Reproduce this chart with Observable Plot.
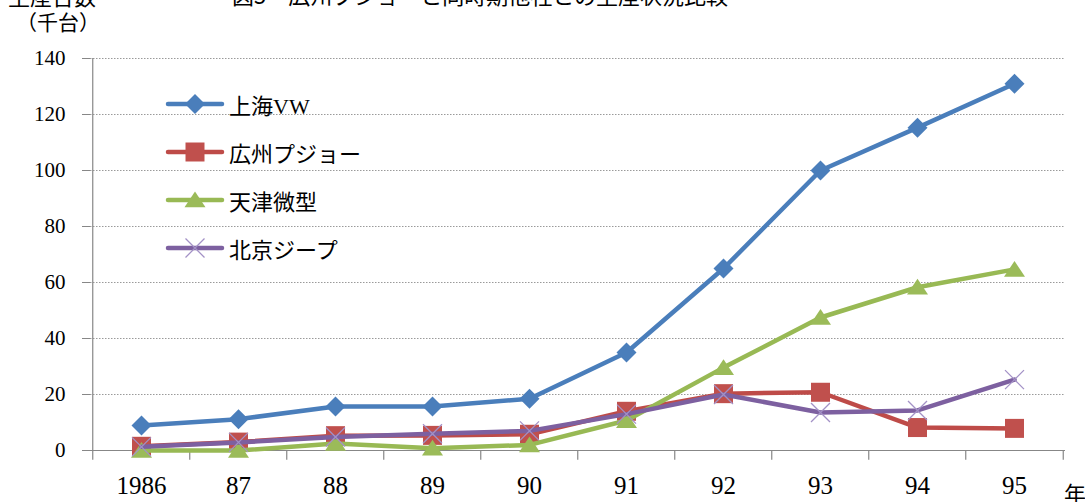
<!DOCTYPE html>
<html>
<head>
<meta charset="utf-8">
<script src="https://cdn.jsdelivr.net/npm/d3@7"></script>
<script src="https://cdn.jsdelivr.net/npm/@observablehq/plot@0.6"></script>
<style>
  html, body { margin: 0; padding: 0; background: #fff; overflow: hidden; }
  #wrap { position: relative; width: 1085px; height: 502px; font-family: "Liberation Serif", "Noto Sans CJK JP", serif; color: #000; }
  #wrap svg text { font-family: "Liberation Serif", "Times New Roman", serif !important; }
  .lbl { position: absolute; white-space: nowrap; line-height: 1; font-family: "Noto Sans CJK JP", sans-serif; }
  #legend { position: absolute; left: 165px; top: 80px; }
  .row { display: flex; align-items: center; height: 48px; }
  .row span { font-family: "Liberation Serif", "Noto Sans CJK JP", serif; font-size: 22px; margin-left: 4px; }
</style>
</head>
<body>
<div id="wrap"></div>
<script>
// ---- data ----
const years = ["1986", "87", "88", "89", "90", "91", "92", "93", "94", "95"];
const seriesNames = ["上海VW", "広州プジョー", "天津微型", "北京ジープ"];
const shanghaiVW = [8.9, 11.2, 15.7, 15.7, 18.5, 35, 65, 100, 115.3, 131];
const guangzhouPeugeot = [1.5, 3, 5.3, 5.4, 5.8, 14, 20.3, 20.8, 8.2, 7.9];
const tianjinMicro = [0, 0, 2.5, 0.8, 2, 10.7, 29.6, 47.5, 58.3, 64.7];
const beijingJeep = [1.3, 2.9, 4.8, 6, 7, 13, 20, 13.6, 14.3, 25.3];
const yTicks = [0, 20, 40, 60, 80, 100, 120, 140];

// ---- custom symbols ----
const diamondSym = { draw(ctx, size) { const r = Math.sqrt(size / Math.PI); ctx.moveTo(0, -r); ctx.lineTo(r, 0); ctx.lineTo(0, r); ctx.lineTo(-r, 0); ctx.closePath(); } };
const squareSym = { draw(ctx, size) { const r = Math.sqrt(size / Math.PI); ctx.rect(-r, -r, 2 * r, 2 * r); } };
const triSym = { draw(ctx, size) { const r = Math.sqrt(size / Math.PI); ctx.moveTo(0, -r * 0.8); ctx.lineTo(r, r * 0.7); ctx.lineTo(-r, r * 0.7); ctx.closePath(); } };
const xSym = { draw(ctx, size) { const r = Math.sqrt(size / Math.PI); ctx.moveTo(-r, -r); ctx.lineTo(r, r); ctx.moveTo(r, -r); ctx.lineTo(-r, r); } };

const styles = [
  { vals: shanghaiVW, line: "#4a7ebb", mark: "#4a7ebb", sym: diamondSym, r: 10, fillMark: true },
  { vals: guangzhouPeugeot, line: "#be4b48", mark: "#c0504d", sym: squareSym, r: 9.5, fillMark: true },
  { vals: tianjinMicro, line: "#98b954", mark: "#9bbb59", sym: triSym, r: 10.5, fillMark: true },
  { vals: beijingJeep, line: "#7d60a0", mark: "#a391c6", sym: xSym, r: 9.5, fillMark: false }
];

const W = 1085, H = 502, mL = 90, mR = 20, mT = 58, mB = 52;
const step = (W - mL - mR) / years.length;
const serif = "Liberation Serif";

const marks = [];
marks.push(Plot.gridY(yTicks.filter(d => d > 0), { stroke: "#9a9a9a", strokeOpacity: 1, strokeDasharray: "1.5,1.5", strokeWidth: 1 }));
// y axis line & ticks
marks.push(Plot.ruleX([years[0]], { dx: -step / 2, y1: 0, y2: 140, stroke: "#878787", strokeWidth: 1.2 }));
marks.push(Plot.axisY({ ticks: yTicks, tickSize: 8, tickPadding: 17, stroke: "#878787", fontSize: 21, fontFamily: serif, tickFormat: d => d, label: null }));
// x axis line
marks.push(Plot.ruleY([0], { stroke: "#878787", strokeWidth: 1.2 }));
// x category boundary ticks
marks.push(Plot.ruleX(years, { dx: -step / 2, y1: 0, y2: -3.5, stroke: "#878787", strokeWidth: 1.2 }));
marks.push(Plot.ruleX([years[years.length - 1]], { dx: step / 2, y1: 0, y2: -3.5, stroke: "#878787", strokeWidth: 1.2 }));
marks.push(Plot.axisX({ tickSize: 0, tickPadding: 26, fontSize: 25, fontFamily: serif, label: null }));

styles.forEach((s, i) => {
  const data = years.map((y, j) => ({ year: y, value: s.vals[j], series: seriesNames[i] }));
  marks.push(Plot.line(data, { x: "year", y: "value", stroke: s.line, strokeWidth: 4.5, strokeLinejoin: "round", strokeLinecap: "round" }));
  marks.push(Plot.dot(data, s.fillMark
    ? { x: "year", y: "value", symbol: s.sym, r: s.r, fill: s.mark, stroke: "none" }
    : { x: "year", y: "value", symbol: s.sym, r: s.r, fill: "none", stroke: s.mark, strokeWidth: 1.3 }));
});

const chart = Plot.plot({
  width: W, height: H,
  marginLeft: mL, marginRight: mR, marginTop: mT, marginBottom: mB,
  style: { fontFamily: serif, color: "#000", background: "#fff", overflow: "visible" },
  x: { type: "point", domain: years, padding: 0.5, axis: null },
  y: { domain: [0, 140], axis: null },
  marks
});
const wrap = document.getElementById("wrap");
wrap.appendChild(chart);

// ---- text overlays ----
function addLabel(text, left, top, size) {
  const d = document.createElement("div");
  d.className = "lbl";
  d.textContent = text;
  d.style.left = left + "px"; d.style.top = top + "px"; d.style.fontSize = size + "px";
  wrap.appendChild(d);
}
addLabel("生産台数", 8, -16, 22);
addLabel("（千台）", 16, 11, 21);
addLabel("図5　広州プジョーと同時期他社との生産状況比較", 232, -17, 22);
addLabel("年", 1064, 481, 22);

// ---- legend ----
const legend = document.createElement("div");
legend.id = "legend";
styles.forEach((s, i) => {
  const row = document.createElement("div");
  row.className = "row";
  const svg = d3.create("svg").attr("width", 60).attr("height", 24);
  svg.append("line").attr("x1", 3).attr("x2", 57).attr("y1", 12).attr("y2", 12)
    .attr("stroke", s.line).attr("stroke-width", 4.5).attr("stroke-linecap", "round");
  const p = d3.path();
  s.sym.draw(p, Math.PI * s.r * s.r);
  svg.append("path").attr("d", p.toString()).attr("transform", "translate(30,12)")
    .attr("fill", s.fillMark ? s.mark : "none").attr("stroke", s.fillMark ? "none" : s.mark).attr("stroke-width", 1.3);
  row.appendChild(svg.node());
  const t = document.createElement("span");
  t.textContent = seriesNames[i];
  row.appendChild(t);
  legend.appendChild(row);
});
wrap.appendChild(legend);
</script>
</body>
</html>
